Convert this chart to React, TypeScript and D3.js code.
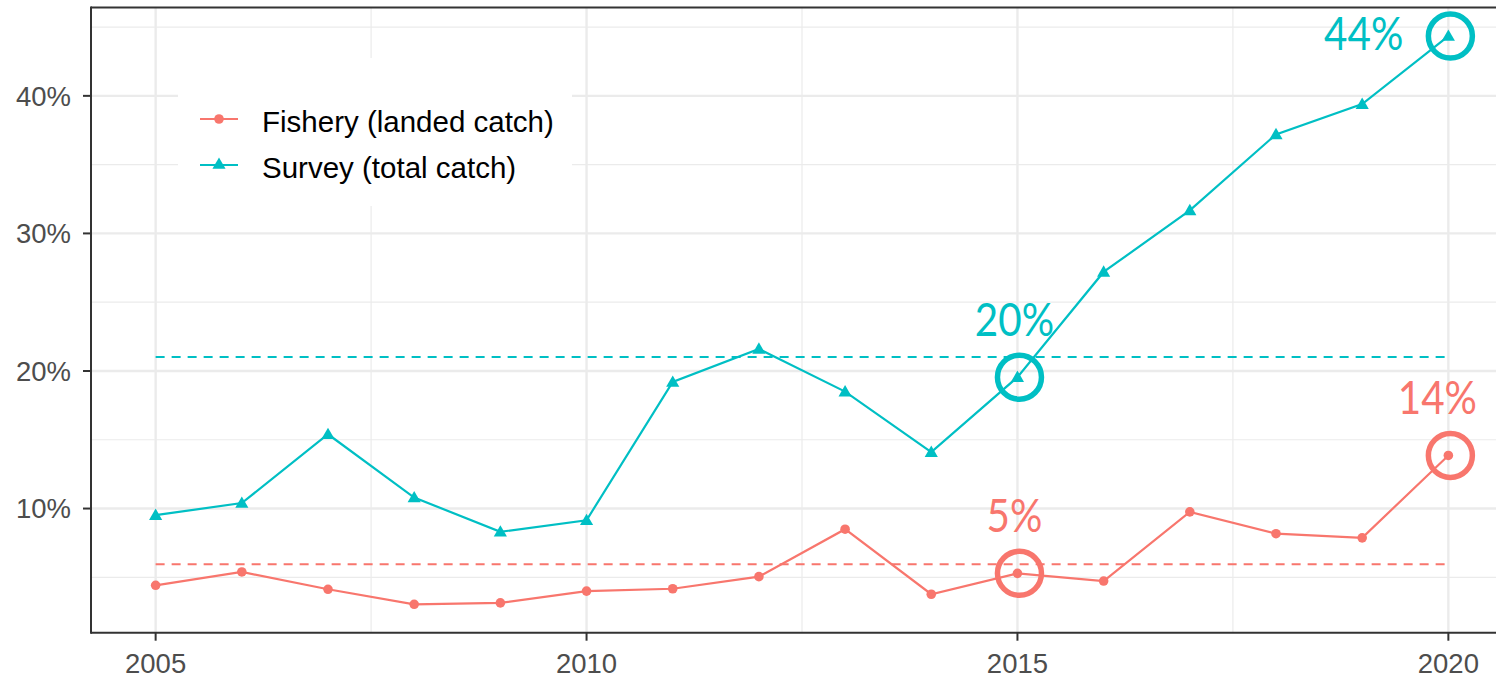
import React, { useEffect, useRef } from 'react';
import * as d3 from 'd3';

const years = [2005, 2006, 2007, 2008, 2009, 2010, 2011, 2012, 2013, 2014, 2015, 2016, 2017, 2018, 2019, 2020];
const fishery = [4.42, 5.39, 4.13, 3.04, 3.14, 4.0, 4.17, 5.05, 8.5, 3.77, 5.29, 4.73, 9.76, 8.17, 7.87, 13.86];
const survey = [9.52, 10.4, 15.4, 10.8, 8.31, 9.15, 19.2, 21.6, 18.5, 14.1, 19.55, 27.2, 31.67, 37.2, 39.4, 44.35];
const seriesNames = ['Fishery (landed catch)', 'Survey (total catch)'];
const yTicks = [10, 20, 30, 40];
const xTicks = [2005, 2010, 2015, 2020];
const highlightYears = [2015, 2015, 2020, 2020];
const highlightSeries = [0, 1, 0, 1];
const highlightText = ['5%', '20%', '14%', '44%'];

const RED = '#F8766D';
const TEAL = '#00BFC4';

export default function App() {
  const svgRef = useRef<SVGSVGElement>(null);
  const width = 1496;
  const height = 680;

  useEffect(() => {
    const svg = d3.select(svgRef.current);
    svg.selectAll('*').remove();

    const left = 91, top = 7.6, bottom = 632.7;
    const all = fishery.concat(survey);
    const [lo, hi] = d3.extent(all) as [number, number];
    const pad = (hi - lo) * 0.05;
    const x = d3.scaleLinear().domain([2004.25, 2020.75]).range([left, 1513]);
    const y = d3.scaleLinear().domain([lo - pad, hi + pad]).range([bottom, top]);

    svg.append('rect').attr('width', width).attr('height', height).attr('fill', 'white');

    const g = svg.append('g');
    // minor grid
    const minorY = d3.range(5, 50, 10);
    const minorX = [2007.5, 2012.5, 2017.5];
    g.selectAll('.gmy').data(minorY).enter().append('line')
      .attr('x1', left).attr('x2', width).attr('y1', d => y(d)).attr('y2', d => y(d))
      .attr('stroke', '#ebebeb').attr('stroke-width', 1.2);
    g.selectAll('.gmx').data(minorX).enter().append('line')
      .attr('y1', top).attr('y2', bottom).attr('x1', d => x(d)).attr('x2', d => x(d))
      .attr('stroke', '#ebebeb').attr('stroke-width', 1.2);
    // major grid
    g.selectAll('.gy').data(yTicks).enter().append('line')
      .attr('x1', left).attr('x2', width).attr('y1', d => y(d)).attr('y2', d => y(d))
      .attr('stroke', '#ebebeb').attr('stroke-width', 2.4);
    g.selectAll('.gx').data(xTicks).enter().append('line')
      .attr('y1', top).attr('y2', bottom).attr('x1', d => x(d)).attr('x2', d => x(d))
      .attr('stroke', '#ebebeb').attr('stroke-width', 2.4);

    // mean lines
    const series = [fishery, survey];
    const colors = [RED, TEAL];
    series.forEach((s, i) => {
      const m = d3.mean(s) as number;
      g.append('line')
        .attr('x1', x(years[0])).attr('x2', x(years[years.length - 1]))
        .attr('y1', y(m)).attr('y2', y(m))
        .attr('stroke', colors[i]).attr('stroke-width', 2)
        .attr('stroke-dasharray', '9,7');
    });

    const line = d3.line<number>().x((_, i) => x(years[i])).y(d => y(d));
    const tri = d3.symbol().type(d3.symbolTriangle).size(75);
    series.forEach((s, i) => {
      g.append('path').datum(s).attr('d', line).attr('fill', 'none')
        .attr('stroke', colors[i]).attr('stroke-width', 2.2);
      if (i === 0) {
        g.selectAll('.pt0').data(s).enter().append('circle')
          .attr('cx', (_, j) => x(years[j])).attr('cy', d => y(d)).attr('r', 4.8)
          .attr('fill', colors[i]);
      } else {
        g.selectAll('.pt1').data(s).enter().append('path')
          .attr('d', tri)
          .attr('transform', (d, j) => `translate(${x(years[j])},${y(d) + 1})`)
          .attr('fill', colors[i]);
      }
    });

    // highlights
    highlightYears.forEach((yr, k) => {
      const si = highlightSeries[k];
      const v = series[si][years.indexOf(yr)];
      const cx = x(yr), cy = y(v);
      g.append('circle').attr('cx', cx + 2).attr('cy', cy).attr('r', 22)
        .attr('fill', 'none').attr('stroke', colors[si]).attr('stroke-width', 5.5);
      let tx = cx - 3, ty = cy - 41, anchor = 'middle';
      if (highlightText[k] === '44%') {
        tx = cx - 45; ty = cy + 14; anchor = 'end';
      } else if (yr === 2020) {
        tx = cx - 11;
      }
      g.append('g').attr('transform', `translate(${tx},${ty}) scale(0.86,1)`)
        .append('text')
        .attr('text-anchor', anchor)
        .attr('fill', colors[si])
        .style('font-family', 'Lato, "Open Sans", sans-serif')
        .style('font-size', '47px')
        .text(highlightText[k]);
    });

    // axes
    const axisColor = '#333333';
    const fontFam = '"Liberation Sans", Arial, sans-serif';
    g.append('line').attr('x1', left).attr('x2', width).attr('y1', top).attr('y2', top)
      .attr('stroke', axisColor).attr('stroke-width', 2);
    g.append('line').attr('x1', left).attr('x2', width).attr('y1', bottom).attr('y2', bottom)
      .attr('stroke', axisColor).attr('stroke-width', 2);
    g.append('line').attr('x1', left).attr('x2', left).attr('y1', top - 1).attr('y2', bottom + 1)
      .attr('stroke', axisColor).attr('stroke-width', 2);

    g.selectAll('.ty').data(yTicks).enter().append('line')
      .attr('x1', left - 8).attr('x2', left).attr('y1', d => y(d)).attr('y2', d => y(d))
      .attr('stroke', axisColor).attr('stroke-width', 2);
    g.selectAll('.tyl').data(yTicks).enter().append('text')
      .attr('x', left - 20).attr('y', d => y(d)).attr('dy', '0.36em')
      .attr('text-anchor', 'end').attr('fill', '#4d4d4d')
      .style('font-family', fontFam).style('font-size', '27.5px')
      .text(d => `${d}%`);
    g.selectAll('.tx').data(xTicks).enter().append('line')
      .attr('x1', d => x(d)).attr('x2', d => x(d)).attr('y1', bottom).attr('y2', bottom + 8)
      .attr('stroke', axisColor).attr('stroke-width', 2);
    g.selectAll('.txl').data(xTicks).enter().append('text')
      .attr('x', d => x(d)).attr('y', bottom + 40)
      .attr('text-anchor', 'middle').attr('fill', '#4d4d4d')
      .style('font-family', fontFam).style('font-size', '27.5px')
      .text(d => d);

    // legend
    const lg = svg.append('g');
    lg.append('rect').attr('x', 178).attr('y', 58).attr('width', 394).attr('height', 148).attr('fill', 'white');
    seriesNames.forEach((name, i) => {
      const ly = 119 + i * 46;
      lg.append('line').attr('x1', 200).attr('x2', 238).attr('y1', ly).attr('y2', ly)
        .attr('stroke', colors[i]).attr('stroke-width', 2.2);
      if (i === 0) {
        lg.append('circle').attr('cx', 219).attr('cy', ly).attr('r', 4.8).attr('fill', colors[i]);
      } else {
        lg.append('path').attr('d', tri).attr('transform', `translate(219,${ly})`).attr('fill', colors[i]);
      }
      lg.append('text').attr('x', 262).attr('y', ly + 12.5)
        .attr('fill', 'black')
        .style('font-family', fontFam).style('font-size', '29.5px')
        .text(name);
    });
  }, []);

  return (
    <div style={{ position: 'absolute', left: 0, top: 0 }}>
      <svg ref={svgRef} width={width} height={height} style={{ display: 'block' }} />
    </div>
  );
}
